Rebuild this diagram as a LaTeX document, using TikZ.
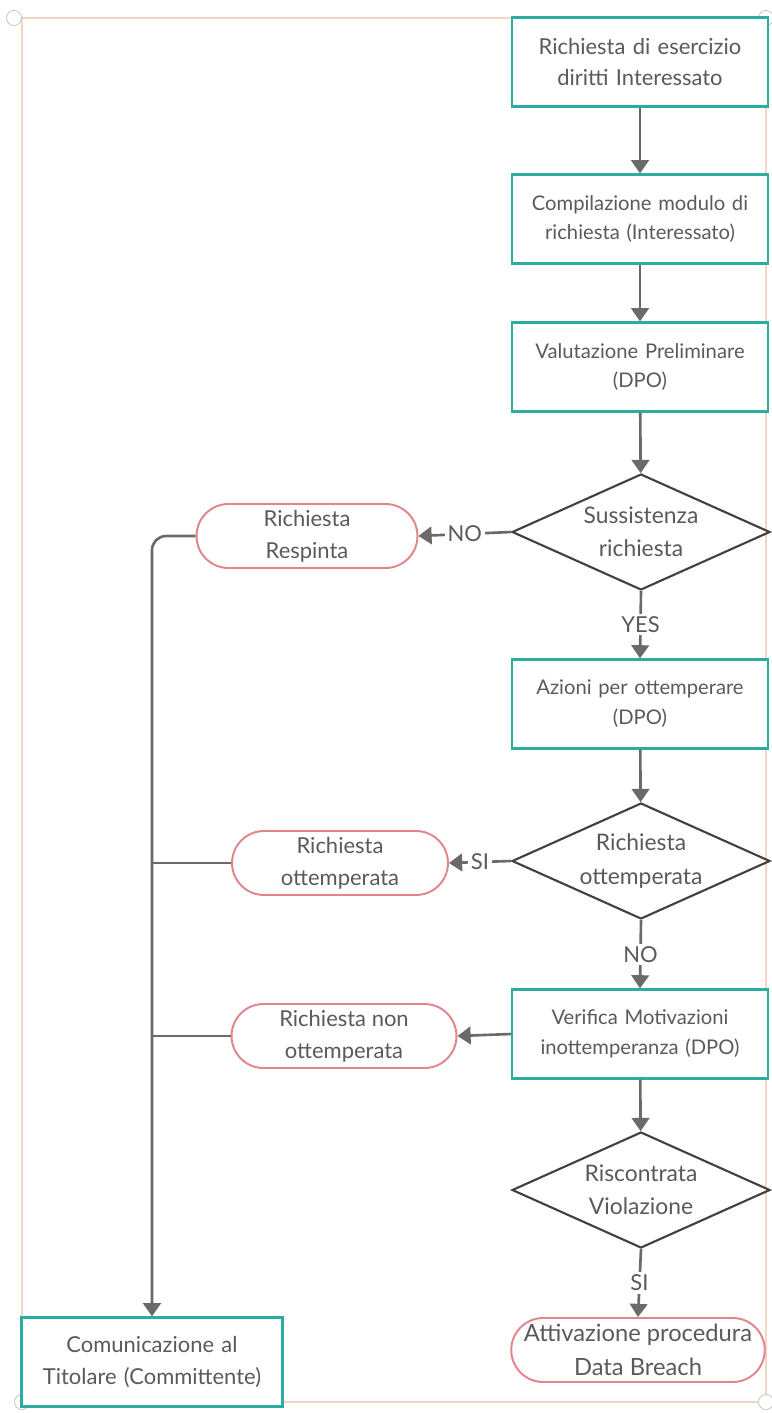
\documentclass[tikz,border=0pt]{standalone}
\usepackage{fontspec}
\setmainfont{Lato}
\usetikzlibrary{arrows.meta,shapes.geometric,shapes.misc,shadows}

\definecolor{tealc}{HTML}{2BAE9F}
\definecolor{pinkc}{HTML}{E2848C}
\definecolor{linec}{HTML}{6A6A6A}
\definecolor{textc}{HTML}{5A5A5A}
\definecolor{framec}{HTML}{F2D6C4}

\begin{document}
\begin{tikzpicture}[x=0.02cm,y=-0.02cm,
        font=\fontsize{11.5}{17}\selectfont, text=textc,
        proc/.style={draw=tealc, line width=1.3pt, fill=white, minimum width=5.12cm,
            minimum height=1.78cm, text width=4.9cm, align=center, inner sep=0pt,
            drop shadow={shadow xshift=0.5pt, shadow yshift=-0.9pt, fill=black!50, opacity=1}},
        term/.style={rounded rectangle, draw=pinkc, line width=1.1pt, fill=white,
            minimum height=1.28cm, align=center, inner sep=0pt,
            font=\fontsize{12.5}{18}\selectfont},
        test/.style={diamond, draw=black!75, line width=1.2pt, fill=white,
            minimum width=5.16cm, minimum height=2.32cm, inner sep=0pt,
            label={[align=center, font=\fontsize{13}{19}\selectfont]center:#1}},
        conn/.style={draw=linec, line width=1.5pt},
        arr/.style={conn, -{Triangle[width=10pt,length=7.5pt]}},
        lab/.style={fill=white, inner sep=1.5pt, font=\fontsize{12.5}{15}\selectfont}]
            \useasboundingbox (0,0) rectangle (771,1413);

            % frame
            \draw[framec, line width=1pt] (22,18) rectangle (766,1402);
            \foreach \cx/\cy in {14/18, 766/18, 22/1402, 766/1402}
                \filldraw[fill=white, draw=black!25] (\cx,\cy) circle[radius=0.15cm];

            % right column
            \node[proc, font=\fontsize{12.5}{18}\selectfont] (req) at (640,62) {Richiesta di esercizio\\diritti Interessato};
            \node[proc] (comp) at (640,219) {Compilazione modulo di\\richiesta (Interessato)};
            \node[proc] (val) at (640,367) {Valutazione Preliminare\\(DPO)};
            \node[test={Sussistenza\\richiesta}] (sus) at (641,532) {};
            \node[proc] (azi) at (640,704) {Azioni per ottemperare\\(DPO)};
            \node[test={Richiesta\\ottemperata}] (ott) at (641,861) {};
            \node[proc] (ver) at (640,1034) {Verifica Motivazioni\\inottemperanza (DPO)};
            \node[test={Riscontrata\\Violazione}] (vio) at (641,1190) {};
            \node[term, minimum width=5cm, font=\fontsize{13.5}{19}\selectfont] (breach) at (638,1350) {Attivazione procedura\\Data Breach};

            % left column
            \node[term, minimum width=4.42cm] (resp) at (307,536) {Richiesta\\Respinta};
            \node[term, minimum width=4.32cm] (rott) at (340,863) {Richiesta\\ottemperata};
            \node[term, minimum width=4.5cm] (rnon) at (344,1036) {Richiesta non\\ottemperata};
            \node[proc, minimum width=5.22cm, text width=5.1cm, font=\fontsize{12.5}{18}\selectfont] (tit) at (152,1362) {Comunicazione al\\Titolare (Committente)};

            \draw[arr] (req) -- (comp);
            \draw[arr] (comp) -- (val);
            \draw[arr] (val) -- (sus);
            \draw[arr] (sus.west) -- node[lab] {NO} (resp.east);
            \draw[arr] (sus.south) -- node[lab] {YES} (azi.north);
            \draw[arr] (azi) -- (ott);
            \draw[arr] (ott.west) -- node[lab] {SI} (rott.east);
            \draw[arr] (ott.south) -- node[lab] {NO} (ver.north);
            \draw[arr] (ver.west) -- (rnon.east);
            \draw[arr] (ver) -- (vio);
            \draw[arr] (vio.south) -- node[lab] {SI} (breach.north);

            \draw[arr, rounded corners=8pt] (resp.west) -| (tit.north);
            \draw[conn] (rott.west) -- (rott.west -| tit.north);
            \draw[conn] (rnon.west) -- (rnon.west -| tit.north);
        \end{tikzpicture}
\end{document}
